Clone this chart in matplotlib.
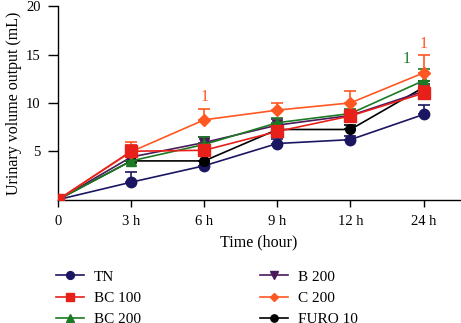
import matplotlib
matplotlib.use("Agg")
import matplotlib.pyplot as plt
import numpy as np

plt.rcParams['font.family'] = ['Liberation Serif', 'DejaVu Serif']

time_labels = ["0", "3 h", "6 h", "9 h", "12 h", "24 h"]
series_names = ["TN", "BC 100", "BC 200", "B 200", "C 200", "FURO 10"]
tn = [0, 1.8, 3.5, 5.8, 6.2, 8.8]
bc100 = [0, 5.0, 5.1, 7.05, 8.65, 11.0]
bc200 = [0, 4.0, 5.7, 7.95, 8.9, 12.3]
b200 = [0, 4.4, 5.9, 7.7, 8.7, 11.2]
c200 = [0, 4.95, 8.25, 9.25, 10.0, 13.1]
furo = [0, 4.0, 4.0, 7.25, 7.25, 11.6]
tn_err = [0, 1.1, 0.5, 0.5, 0.4, 1.0]
bc100_err = [0, 0.6, 0.5, 0.5, 0.6, 0.7]
bc200_err = [0, 0.4, 0.8, 0.5, 0.5, 1.2]
b200_err = [0, 0.4, 0.6, 0.6, 0.6, 0.8]
c200_err = [0, 1.0, 1.1, 0.7, 1.2, 1.8]
furo_err = [0, 0.4, 0.6, 0.6, 0.5, 0.7]

colors = {"TN": "#1b1660", "BC 100": "#e8201a", "BC 200": "#1c7a24",
          "B 200": "#4a1a5c", "C 200": "#ff5722", "FURO 10": "#000000"}
markers = {"TN": "o", "BC 100": "s", "BC 200": "^", "B 200": "v", "C 200": "D", "FURO 10": "o"}
msize = {"TN": 7.5, "BC 100": 8, "BC 200": 7.5, "B 200": 7.5, "C 200": 6, "FURO 10": 7}
data = {"TN": (tn, tn_err), "BC 100": (bc100, bc100_err), "BC 200": (bc200, bc200_err),
        "B 200": (b200, b200_err), "C 200": (c200, c200_err), "FURO 10": (furo, furo_err)}

fig = plt.figure(figsize=(4.61, 3.23), dpi=100)
ax = fig.add_axes([0.126, 0.382, 0.872, 0.599])
x = np.arange(len(time_labels))

handles = {}
draw_order = ["TN", "FURO 10", "B 200", "BC 200", "C 200", "BC 100"]
for i, name in enumerate(draw_order):
    vals, err = data[name]
    c = colors[name]
    ax.errorbar(x, vals, yerr=[np.zeros(len(err)), err], fmt='none', ecolor=c,
                elinewidth=1.2, capsize=4.5, capthick=1.2, zorder=2 + i)
    h, = ax.plot(x, vals, color=c, marker=markers[name], markersize=msize[name],
                 linewidth=1.2, zorder=3 + i)
    handles[name] = h

ax.text(2, 9.8, "1", color=colors["C 200"], ha='center', va='bottom', fontsize=11.5)
ax.text(5, 15.3, "1", color=colors["C 200"], ha='center', va='bottom', fontsize=11.5)
ax.text(4.77, 13.7, "1", color=colors["BC 200"], ha='center', va='bottom', fontsize=11.5)

ax.set_xlim(0, 5.5)
ax.set_ylim(0, 20)
ax.set_xticks(x)
ax.set_xticklabels(time_labels)
ax.set_yticks([5, 10, 15, 20])
ax.tick_params(axis='x', labelsize=10.5, length=5, width=1, direction='out', pad=6)
ax.tick_params(axis='y', labelsize=10.5, length=7.5, width=1, direction='out', pad=5)
for s in ['top', 'right']:
    ax.spines[s].set_visible(False)
for s in ['left', 'bottom']:
    ax.spines[s].set_linewidth(1)
ax.set_xlabel("Time (hour)", fontsize=11.5, labelpad=5)
ax.set_ylabel("Urinary volume output (mL)", fontsize=11.5, labelpad=3)

order = ["TN", "BC 100", "BC 200", "B 200", "C 200", "FURO 10"]
fig.legend([handles[n] for n in order], order, loc='upper left',
           bbox_to_anchor=(56 / 461, 1 - 270 / 323), borderaxespad=0, borderpad=0,
           ncol=2, frameon=False, fontsize=11,
           columnspacing=7.75, handlelength=1.85, handletextpad=0.65,
           labelspacing=0.5, markerscale=0.75)

fig.savefig("out.png", dpi=100)
